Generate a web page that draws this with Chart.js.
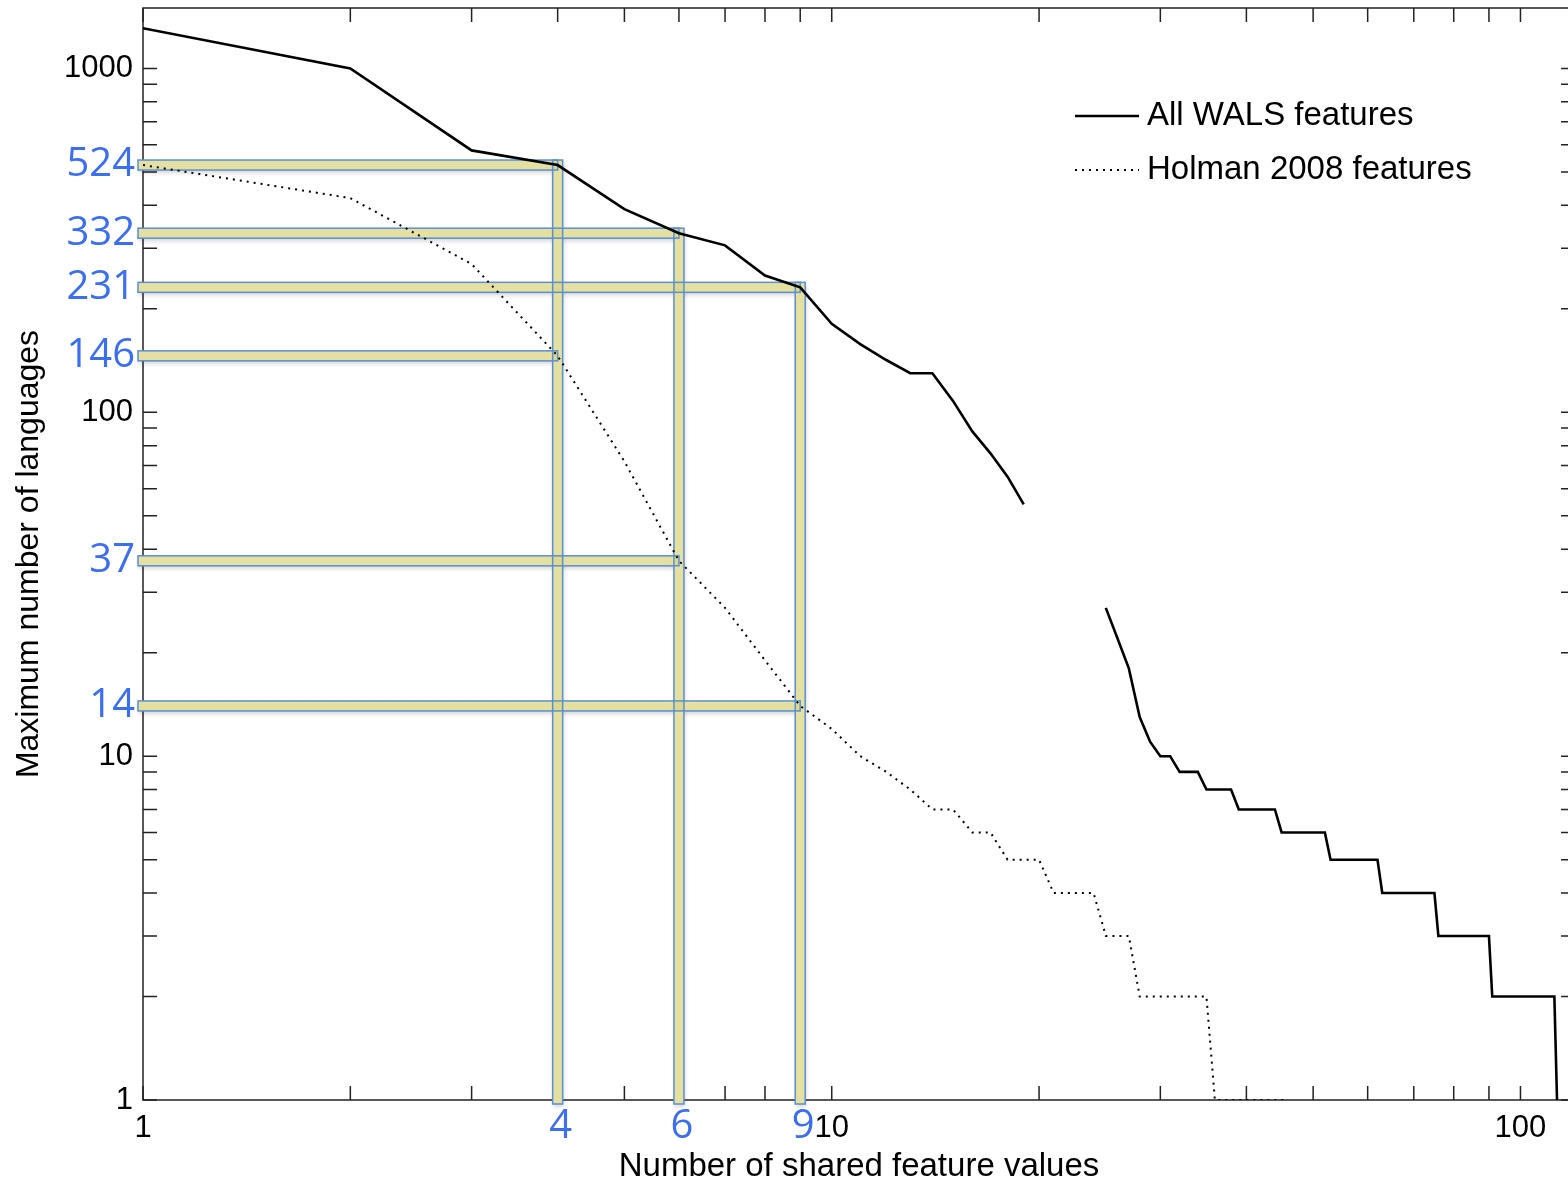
<!DOCTYPE html>
<html>
<head>
<meta charset="utf-8">
<script src="https://cdn.jsdelivr.net/npm/chart.js@4.4.1/dist/chart.umd.min.js"></script>
<style>
  html, body { margin: 0; padding: 0; background: #fff; overflow: hidden; }
  #wrap { width: 1576px; height: 1183px; }
</style>
</head>
<body>
<div id="wrap"><canvas id="myChart" width="1576" height="1183"></canvas></div>
<script>
// number of shared feature values (x)
const sharedValues = [
    1, 2, 3, 4, 5, 6, 7, 8, 9, 10,
    11, 12, 13, 14, 15, 16, 17, 18, 19, 20,
    21, 22, 23, 24, 25, 26, 27, 28, 29, 30,
    31, 32, 33, 34, 35, 36, 37, 38, 39, 40,
    41, 42, 43, 44, 45, 46, 47, 48, 49, 50,
    51, 52, 53, 54, 55, 56, 57, 58, 59, 60,
    61, 62, 63, 64, 65, 66, 67, 68, 69, 70,
    71, 72, 73, 74, 75, 76, 77, 78, 79, 80,
    81, 82, 83, 84, 85, 86, 87, 88, 89, 90,
    91, 92, 93, 94, 95, 96, 97, 98, 99, 100,
    101, 102, 103, 104, 105, 106, 107, 108, 109, 110,
    111, 112, 113
];

// maximum number of languages, all WALS features
const allWals = [
    1310, 1000, 578, 524, 390, 332, 306, 250, 231, 181,
    158, 142, 130, 130, 108, 88, 76, 65, 54, null,
    null, null, null, null, 27, 22, 18, 13, 11, 10,
    10, 9, 9, 9, 8, 8, 8, 8, 7, 7,
    7, 7, 7, 7, 6, 6, 6, 6, 6, 6,
    6, 6, 5, 5, 5, 5, 5, 5, 5, 5,
    5, 5, 4, 4, 4, 4, 4, 4, 4, 4,
    4, 4, 4, 4, 4, 3, 3, 3, 3, 3,
    3, 3, 3, 3, 3, 3, 3, 3, 3, 3,
    2, 2, 2, 2, 2, 2, 2, 2, 2, 2,
    2, 2, 2, 2, 2, 2, 2, 2, 2, 2,
    2, 2, 1
];

// maximum number of languages, Holman 2008 features
const holman = [
    524, 420, 270, 146, 72, 37, 27, 19, 14, 12,
    10, 9, 8, 7, 7, 6, 6, 5, 5, 5,
    4, 4, 4, 4, 3, 3, 3, 2, 2, 2,
    2, 2, 2, 2, 2, 1, 1, 1, 1, 1,
    1, 1, 1, 1, 1, 1
];

// highlighted readings
const markedCounts = [4, 6, 9];
const markedAll = [524, 332, 231];
const markedHolman = [146, 37, 14];

// axis ticks
const xTickLabels = [1, 10, 100];
const yTickLabels = [1, 10, 100, 1000];
const xTickValues = [1, 2, 3, 4, 5, 6, 7, 8, 9, 10, 20, 30, 40, 50, 60, 70, 80, 90, 100];
const yTickValues = [1, 2, 3, 4, 5, 6, 7, 8, 9, 10, 20, 30, 40, 50, 60, 70, 80, 90,
    100, 200, 300, 400, 500, 600, 700, 800, 900, 1000];

Chart.defaults.font.family = "'Liberation Sans', Arial, sans-serif";
Chart.defaults.color = '#000';

// box and inward ticks on all four sides
const frame = {
    id: 'frame',
    beforeDatasetsDraw(chart) {
        const { ctx, chartArea: a, scales: { x, y } } = chart;
        ctx.save();
        ctx.strokeStyle = '#222';
        ctx.lineWidth = 1.5;
        ctx.strokeRect(a.left, a.top, a.right - a.left, a.bottom - a.top);
        ctx.beginPath();
        xTickValues.forEach(v => {
            const p = x.getPixelForValue(v);
            ctx.moveTo(p, a.bottom); ctx.lineTo(p, a.bottom - 14);
            ctx.moveTo(p, a.top); ctx.lineTo(p, a.top + 14);
        });
        yTickValues.forEach(v => {
            const p = y.getPixelForValue(v);
            ctx.moveTo(a.left, p); ctx.lineTo(a.left + 14, p);
            ctx.moveTo(a.right, p); ctx.lineTo(a.right - 14, p);
        });
        ctx.stroke();
        ctx.restore();
    }
};

// yellow guide bars with blue outline
const marks = {
    id: 'marks',
    beforeDatasetsDraw(chart) {
        const { ctx, chartArea: a, scales: { x, y } } = chart;
        const rects = [];
        markedCounts.forEach((n, i) => {
            const px = x.getPixelForValue(n);
            [markedAll[i], markedHolman[i]].forEach(v => {
                const py = y.getPixelForValue(v);
                rects.push([a.left - 5, py - 5, px - a.left + 5, 10]);
            });
            const top = y.getPixelForValue(markedAll[i]) - 5;
            rects.push([px - 5, top, 10, a.bottom + 4 - top]);
        });
        ctx.save();
        // soft drop shadow only
        ctx.fillStyle = '#000';
        ctx.shadowColor = 'rgba(0, 0, 0, 0.16)';
        ctx.shadowBlur = 4;
        ctx.shadowOffsetX = 10000 + 1;
        ctx.shadowOffsetY = 3;
        rects.forEach(r => ctx.fillRect(r[0] - 10000, r[1], r[2], r[3]));
        ctx.restore();
        ctx.save();
        ctx.fillStyle = '#eeebb8';
        rects.forEach(r => ctx.fillRect(r[0], r[1], r[2], r[3]));
        // slightly deeper where bars cross
        ctx.fillStyle = 'rgba(200, 190, 90, 0.25)';
        rects.forEach(r => ctx.fillRect(r[0], r[1], r[2], r[3]));
        ctx.strokeStyle = '#5b8fd2';
        ctx.lineWidth = 1.5;
        rects.forEach(r => ctx.strokeRect(r[0], r[1], r[2], r[3]));
        ctx.restore();
    },
    afterDatasetsDraw(chart) {
        const { ctx, chartArea: a, scales: { x, y } } = chart;
        ctx.save();
        ctx.fillStyle = '#3c6ef0';
        ctx.font = "40px 'Open Sans', 'Noto Sans', sans-serif";
        ctx.textBaseline = 'middle';
        ctx.textAlign = 'right';
        markedAll.concat(markedHolman).forEach(v => {
            ctx.fillText(String(v), a.left - 8, y.getPixelForValue(v));
        });
        ctx.textAlign = 'center';
        markedCounts.forEach(n => {
            ctx.fillText(String(n), x.getPixelForValue(n) + 3, a.bottom + 27);
        });
        ctx.restore();
    }
};

// legend inside the plot, top right
const legendBox = {
    id: 'legendBox',
    afterDraw(chart) {
        const { ctx, chartArea: a } = chart;
        const x0 = a.left + 932, x1 = x0 + 64;
        ctx.save();
        ctx.font = "33px 'Liberation Sans', Arial, sans-serif";
        ctx.textBaseline = 'middle';
        ctx.textAlign = 'left';
        ctx.fillStyle = '#000';
        chart.data.datasets.forEach((ds, i) => {
            const ly = a.top + 108 + i * 54;
            ctx.beginPath();
            ctx.strokeStyle = ds.borderColor;
            ctx.lineWidth = ds.borderWidth;
            ctx.setLineDash(ds.borderDash || []);
            ctx.moveTo(x0, ly);
            ctx.lineTo(x1, ly);
            ctx.stroke();
            ctx.fillText(ds.label, x1 + 8, ly);
        });
        ctx.restore();
    }
};

const config = {
    type: 'line',
    data: {
        datasets: [
            {
                label: 'All WALS features',
                data: allWals.map((v, i) => ({ x: sharedValues[i], y: v })),
                borderColor: '#000',
                borderWidth: 2.6,
                pointRadius: 0,
                tension: 0,
                spanGaps: false,
                fill: false
            },
            {
                label: 'Holman 2008 features',
                data: holman.map((v, i) => ({ x: sharedValues[i], y: v })),
                borderColor: '#000',
                borderWidth: 2,
                borderDash: [2, 5],
                pointRadius: 0,
                tension: 0,
                fill: false
            }
        ]
    },
    options: {
        responsive: false,
        animation: false,
        events: [],
        layout: { padding: { top: 8, right: 1, left: 0, bottom: 0 } },
        plugins: { legend: { display: false }, tooltip: { enabled: false } },
        scales: {
            x: {
                type: 'logarithmic',
                position: 'bottom',
                min: 1,
                max: 120,
                bounds: 'data',
                grid: { display: false, drawTicks: false },
                border: { display: false },
                afterBuildTicks: s => { s.ticks = xTickLabels.map(v => ({ value: v })); },
                afterFit: s => { s.height = 83; s.paddingLeft = 0; s.paddingRight = 0; },
                ticks: {
                    font: { size: 31 },
                    color: '#000',
                    padding: 10,
                    maxRotation: 0,
                    autoSkip: false,
                    callback: v => String(v)
                },
                title: {
                    display: true,
                    text: 'Number of shared feature values',
                    font: { size: 33, lineHeight: 1 },
                    color: '#000',
                    padding: { top: 0, bottom: 0 }
                }
            },
            y: {
                type: 'logarithmic',
                position: 'left',
                min: 1,
                max: 1500,
                bounds: 'data',
                grid: { display: false, drawTicks: false },
                border: { display: false },
                afterBuildTicks: s => { s.ticks = yTickLabels.map(v => ({ value: v })); },
                afterFit: s => { s.width = 143; s.paddingTop = 0; s.paddingBottom = 0; },
                ticks: {
                    font: { size: 31 },
                    color: '#000',
                    padding: 10,
                    autoSkip: false,
                    callback: v => String(v)
                },
                title: {
                    display: true,
                    text: 'Maximum number of languages',
                    font: { size: 32, lineHeight: 1 },
                    color: '#000',
                    padding: { top: 13, bottom: 0 }
                }
            }
        }
    },
    plugins: [frame, marks, legendBox]
};

const myChart = new Chart(document.getElementById('myChart'), config);
</script>
</body>
</html>
